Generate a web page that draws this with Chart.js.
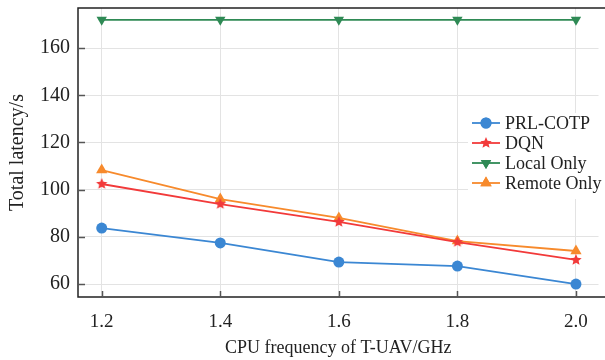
<!DOCTYPE html>
<html>
<head>
<meta charset="utf-8">
<script src="https://cdn.jsdelivr.net/npm/chart.js@4/dist/chart.umd.min.js"></script>
<style>
  html, body { margin: 0; padding: 0; background: #fff; }
  #wrap { width: 605px; height: 360px; }
</style>
</head>
<body>
<div id="wrap"><canvas id="chart" width="605" height="360"></canvas></div>
<script>
'use strict';

const freqs = [1.2, 1.4, 1.6, 1.8, 2.0];
const prlCotp = [83.7, 77.4, 69.3, 67.6, 60.0];
const dqn = [102.4, 93.9, 86.3, 77.8, 70.2];
const localOnly = [172, 172, 172, 172, 172];
const remoteOnly = [108.3, 96.0, 88.0, 78.2, 74.0];
const yTicks = [60, 80, 100, 120, 140, 160];

const FONT = "'Liberation Serif', 'Times New Roman', serif";

function starCanvas(color, r) {
    let c = document.createElement('canvas');
    c.width = r * 2 + 2;
    c.height = r * 2 + 2;
    let g = c.getContext('2d');
    g.fillStyle = color;
    g.beginPath();
    for (let i = 0; i < 10; i++) {
        let rad = i % 2 === 0 ? r : r * 0.45;
        let a = -Math.PI / 2 + i * Math.PI / 5;
        let px = r + 1 + rad * Math.cos(a);
        let py = r + 1 + rad * Math.sin(a);
        if (i === 0) g.moveTo(px, py); else g.lineTo(px, py);
    }
    g.closePath();
    g.fill();
    return c;
}

const colors = {
    blue: '#3b87d3',
    red: '#f23a3a',
    green: '#2f8a55',
    orange: '#f78a2c',
};

const starImg = starCanvas(colors.red, 6);

function pts(ys) {
    return freqs.map((x, i) => ({ x: x, y: ys[i] }));
}

const series = [
    { label: 'PRL-COTP', data: prlCotp, color: colors.blue, style: 'circle', radius: 5.5, rot: 0 },
    { label: 'DQN', data: dqn, color: colors.red, style: starImg, radius: 6, rot: 0 },
    { label: 'Local Only', data: localOnly, color: colors.green, style: 'triangle', radius: 6, rot: 180 },
    { label: 'Remote Only', data: remoteOnly, color: colors.orange, style: 'triangle', radius: 6.5, rot: 0 },
];

// frame, inner ticks and the legend box
const framePlugin = {
    id: 'frame',
    afterDraw(chart) {
        let ctx = chart.ctx;
        let a = chart.chartArea;
        let ys = chart.scales.y;
        let xs = chart.scales.x;
        ctx.save();
        ctx.strokeStyle = '#222';
        ctx.lineWidth = 1.5;
        ctx.beginPath();
        ctx.moveTo(chart.width, a.top);
        ctx.lineTo(a.left, a.top);
        ctx.lineTo(a.left, a.bottom);
        ctx.lineTo(chart.width, a.bottom);
        ctx.stroke();
        ctx.strokeStyle = '#555';
        ctx.lineWidth = 1.5;
        yTicks.forEach(v => {
            let py = Math.round(ys.getPixelForValue(v)) + 0.5;
            ctx.beginPath();
            ctx.moveTo(a.left, py);
            ctx.lineTo(a.left + 7, py);
            ctx.stroke();
        });
        freqs.forEach(v => {
            let px = Math.round(xs.getPixelForValue(v)) + 0.5;
            ctx.beginPath();
            ctx.moveTo(px, a.bottom);
            ctx.lineTo(px, a.bottom - 6);
            ctx.stroke();
        });

        // legend
        let lx = 468, ly = 113, lw = 140, lh = 86;
        ctx.fillStyle = '#fff';
        ctx.fillRect(lx, ly, lw, lh);
        ctx.font = '18px ' + FONT;
        ctx.textBaseline = 'middle';
        series.forEach((s, i) => {
            let y = ly + 10 + i * 20;
            ctx.strokeStyle = s.color;
            ctx.lineWidth = 1.8;
            ctx.beginPath();
            ctx.moveTo(472, y);
            ctx.lineTo(500, y);
            ctx.stroke();
            if (s.style instanceof HTMLCanvasElement) {
                ctx.drawImage(s.style, 486 - s.style.width / 2, y - s.style.height / 2);
            } else {
                ctx.fillStyle = s.color;
                Chart.helpers.drawPoint(ctx, {
                    pointStyle: s.style,
                    radius: s.radius,
                    rotation: s.rot,
                    borderWidth: 0,
                }, 486, y);
                ctx.fill();
            }
            ctx.fillStyle = '#222';
            ctx.fillText(s.label, 505, y + 1);
        });
        ctx.restore();
    }
};

function renderChart() {
    let canvasElem = document.getElementById('chart');
    let chartConfig = {
        type: 'line',
        data: {
            datasets: series.map(s => ({
                label: s.label,
                data: pts(s.data),
                borderColor: s.color,
                backgroundColor: s.color,
                borderWidth: 1.8,
                pointStyle: s.style,
                pointRadius: s.radius,
                pointRotation: s.rot,
                pointBorderWidth: 0,
                tension: 0,
            }))
        },
        options: {
            responsive: false,
            animation: false,
            layout: { padding: { top: 8, right: 0, left: 0, bottom: 0 } },
            plugins: {
                legend: { display: false },
                tooltip: { enabled: false },
            },
            scales: {
                x: {
                    type: 'linear',
                    min: 1.16,
                    max: 2.038,
                    afterBuildTicks(scale) {
                        scale.ticks = freqs.map(v => ({ value: v }));
                    },
                    afterFit(scale) {
                        scale.height = 63;
                        scale.paddingLeft = 0;
                        scale.paddingRight = 0;
                    },
                    border: { display: false },
                    grid: { color: '#e3e3e3', lineWidth: 1, drawTicks: false },
                    ticks: {
                        color: '#222',
                        padding: 14,
                        font: { family: FONT, size: 19 },
                        callback: v => v.toFixed(1),
                    },
                    title: {
                        display: true,
                        text: 'CPU frequency of T-UAV/GHz',
                        color: '#222',
                        font: { family: FONT, size: 18 },
                        padding: { top: 10, bottom: 1 },
                    },
                },
                y: {
                    min: 54.5,
                    max: 177,
                    afterBuildTicks(scale) {
                        scale.ticks = yTicks.map(v => ({ value: v }));
                    },
                    afterFit(scale) {
                        scale.width = 78;
                        scale.paddingTop = 0;
                        scale.paddingBottom = 0;
                    },
                    border: { display: false },
                    grid: { color: '#e3e3e3', lineWidth: 1, drawTicks: false },
                    ticks: {
                        color: '#222',
                        padding: 8,
                        font: { family: FONT, size: 20 },
                    },
                    title: {
                        display: true,
                        text: 'Total latency/s',
                        color: '#222',
                        font: { family: FONT, size: 20 },
                        padding: { bottom: 0, top: 6 },
                    },
                },
            },
        },
        plugins: [framePlugin],
    };
    new Chart(canvasElem, chartConfig);
}

renderChart();
</script>
</body>
</html>
